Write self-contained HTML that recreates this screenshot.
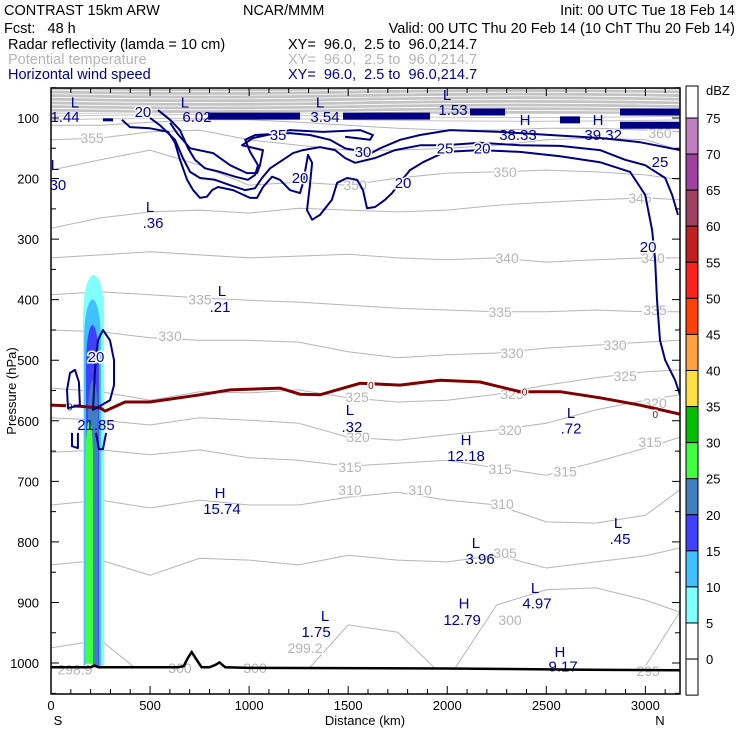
<!DOCTYPE html>
<html><head><meta charset="utf-8">
<style>
html,body{margin:0;padding:0;background:#fff;}
svg{display:block;font-family:"Liberation Sans",sans-serif;}
</style></head>
<body>
<svg id="chart" width="740" height="740" viewBox="0 0 740 740" xmlns="http://www.w3.org/2000/svg">
<g font-size="14.5">
<text x="4" y="15" fill="#000">CONTRAST 15km ARW</text>
<text x="243" y="15" fill="#000">NCAR/MMM</text>
<text x="735" y="15" text-anchor="end" fill="#000">Init: 00 UTC Tue 18 Feb 14</text>
<text x="4" y="33" fill="#000" xml:space="preserve">Fcst:   48 h</text>
<text x="735" y="33" text-anchor="end" fill="#000">Valid: 00 UTC Thu 20 Feb 14 (10 ChT Thu 20 Feb 14)</text>
<text x="8" y="49" fill="#000">Radar reflectivity (lamda = 10 cm)</text>
<text x="288" y="49" fill="#000" xml:space="preserve">XY=  96.0,  2.5 to  96.0,214.7</text>
<text x="8" y="64" fill="#b4b4b4">Potential temperature</text>
<text x="288" y="64" fill="#b4b4b4" xml:space="preserve">XY=  96.0,  2.5 to  96.0,214.7</text>
<text x="8" y="79" fill="#000090">Horizontal wind speed</text>
<text x="288" y="79" fill="#000090" xml:space="preserve">XY=  96.0,  2.5 to  96.0,214.7</text>
</g>
<defs>
<clipPath id="plotClip"><rect x="51" y="88" width="629" height="606"/></clipPath>
<clipPath id="airClip"><path id="airPath" d=""/></clipPath>
</defs>
<g id="plot" clip-path="url(#plotClip)"></g>
<g id="axes"></g>
<g id="cbar"></g>
</svg>
<script>
// ---- axis ranges ----
const pressureTicks = [100,200,300,400,500,600,700,800,900,1000];
const distanceTicks = [0,500,1000,1500,2000,2500,3000];
// ---- theta contours (K) sampled at these distances (km) ----
const thetaKm = [0,250,500,750,1000,1250,1500,1750,2000,2250,2500,2750,3000,3175];
const theta295 = [1030,1030,1030,1030,1030,1030,1030,1030,1030,1030,1030,1030,1005,915];
const theta300 = [975,962,1028,1028,1028,1028,937,949,1028,904,879,876,896,916];
const theta305 = [838,830,855,827,830,838,822,830,833,822,843,833,823,810];
const theta310 = [739,731,744,731,739,739,726,718,731,739,767,769,756,714];
const theta315 = [652,648,656,648,661,665,675,670,665,678,690,668,645,627];
const theta320 = [595,599,607,595,599,604,627,632,623,615,604,582,566,557];
const theta325 = [546,552,566,552,554,549,562,569,566,556,541,529,519,516];
const theta330 = [450,453,463,467,467,470,486,496,491,488,480,475,470,467];
const theta335 = [392,387,392,397,401,404,409,414,417,420,420,417,420,420];
const theta340 = [331,326,321,326,331,328,325,331,334,331,338,334,331,331];
const theta345 = [282,265,255,252,257,249,252,255,252,244,239,235,232,235];
const theta350 = [186,169,153,178,211,206,211,199,191,189,186,189,194,202];
const theta355 = [136,133,123,120,136,145,153,153,150,145,136,133,136,153];
const theta360 = [112,112,107,103,103,107,112,117,120,120,117,117,120,123];
const thetaLevels = [295,300,305,310,315,320,325,330,335,340,345,350,355,360];
// theta labels: text, km, hPa
const thetaLabelTxt= ["355","350","350","360","345","340","340","335","335","335","330","330","330","325","325","325","320","320","320","315","315","315","315","310","310","310","305","300","300","300","299.2","298.9","295"];
const thetaLabelKm = [207,1535,2292,3074,2973,2302,3039,752,2267,3049,601,2327,2847,1545,2327,2898,1550,2317,3049,1509,2267,2595,3024,1509,1863,2277,2292,2317,651,1030,1282,121,3014];
const thetaLabelP  = [133,211,189,125,232,331,331,400,420,417,460,488,475,561,556,526,627,615,571,676,680,684,635,714,714,737,818,929,1008,1008,975,1011,1013];
// ---- terrain ----
const terrainKm = [0,200,220,240,260,640,670,690,710,730,760,800,830,850,880,1000,2000,2700,3175];
const terrainP  = [1007,1007,1004,1007,1007,1007,1005,992,982,992,1007,1007,1003,999,1007,1008,1009,1011,1012];
// ---- freezing level (0 C) ----
const zeroKm = [0,146,250,273,374,500,752,904,1156,1257,1358,1560,1762,1964,2166,2368,2570,2771,2973,3175];
const zeroP  = [574,576,579,584,569,569,557,549,546,556,557,538,541,533,536,552,552,562,574,589];
// ---- reflectivity column (dBZ thresholds) ----
const reflDbz   = [5,10,15,20,25];
const reflLeft  = [162,167,177,186,174];
const reflRight = [268,252,242,238,212];
const reflTop   = [359,400,442,533,600];
const reflColors = ["#80ffff","#40c0ff","#4040ff","#4080c0","#40ff40"];
// ---- wind speed contours (m/s) ----
const w20aKm = [358,399,500,591,626,651,687,717,752,787,813,843,919,1005,1040,1070,1116,1156,1206,1257,1272,1297,1318,1307,1292,1318,1358,1418,1444,1494,1545,1575,1595,1636,1686,1721,1772,1812,1878,1989,2166,2367,2569,2771,2923,2999,3034,3049,3059,3074,3100,3150,3175];
const w20aP  = [103,115,117,123,141,169,202,219,232,230,219,214,219,232,232,214,197,202,219,224,207,161,174,211,252,268,260,235,207,199,202,219,249,247,235,224,202,186,173,156,153,156,163,173,189,227,285,334,400,467,500,533,557];
const w25Km = [500,550,626,666,702,752,828,904,979,1030,1065,1106,1171,1222,1272,1358,1434,1484,1535,1636,1737,1863,1989,2166,2367,2569,2771,2898,2999,3100,3135,3165];
const w25P  = [100,112,136,166,189,199,202,211,219,216,199,183,169,158,153,148,153,166,174,166,153,145,145,141,145,146,153,169,178,199,227,260];
const w30Km = [540,601,651,692,727,777,853,929,994,1030,1045,1005,980,1030,1206,1307,1408,1484,1535,1600,1661,1762,1863,2014,2267,2519,2771,2973,3175];
const w30P  = [87,103,120,150,169,183,189,197,202,194,178,156,136,128,125,128,136,150,153,161,150,136,128,120,123,128,133,140,153];
const w35Km = [601,636,702,818,904,989,1040,1055,1070,964,1020,1206,1373,1560,1625,1610,1484];
const w35P  = [108,125,150,158,178,191,191,178,153,145,133,120,123,120,128,136,131];
const wLobe1Km = [86,81,96,121,141,146];
const wLobe1P  = [579,549,521,516,536,574];
const wLobe2Km = [212,222,237,262,298,318,318,298];
const wLobe2P  = [582,516,467,450,467,500,541,566];
const wCup1Km = [106,106,136,136];
const wCup1P  = [620,642,645,620];
const wCup2Km = [227,242,262,278];
const wCup2P  = [620,647,647,620];
const jetStartKm = [262,793,1474,2115,2569,2872,2872];
const jetEndKm   = [313,1257,1913,2292,2670,3180,3180];
const jetP       = [103,97,97,90,103,90,112];
// ---- wind H/L labels ----
const extTxt = ["L","1.44","20","L","6.02","L","3.54","L","1.53","H","38.33","H","39.32","35","30","25","20","20","20","25","20","L","30","L",".36","L",".21","20","21.85","L",".32","H","12.18","L",".72","H","15.74","L",".45","L","3.96","L","4.97","H","12.79","L","1.75","H","9.17"];
const extKm  = [121,71,464,676,737,1358,1383,1999,2029,2393,2357,2761,2787,1146,1575,1989,2176,1257,1777,3074,3014,20,35,500,515,863,853,227,227,1509,1519,2095,2095,2625,2625,853,863,2862,2872,2145,2166,2443,2453,2085,2075,1383,1338,2569,2585];
const extP   = [74,98,90,74,98,74,98,62,87,103,128,103,128,128,156,150,150,199,207,173,313,178,211,247,273,386,412,495,607,582,610,632,658,587,613,719,746,769,795,802,828,876,902,902,929,922,949,982,1006];
// ---- colorbar ----
const cbarLabels = [75,70,65,60,55,50,45,40,35,30,25,20,15,10,5,0];
const cbarColors = ["#ffffff","#c080c0","#a040a0","#a04060","#c02020","#ff2020","#ff4000","#ffa040","#ffe040","#00c000","#40ff40","#4080c0","#4040ff","#40c0ff","#80ffff","#ffffff","#ffffff"];

const NS = "http://www.w3.org/2000/svg";
const X0=51, X1=680, Y0=88, Y1=694;
function xs(km){ return X0 + km*0.19812; }
function ys(p){ return 118 + (p-100)*0.6056; }
function mk(tag, attrs, parent){
  const e=document.createElementNS(NS,tag);
  for(const k in attrs) e.setAttribute(k, attrs[k]);
  parent.appendChild(e); return e;
}
function poly(kms, ps){ return kms.map((k,i)=>(i?"L":"M")+xs(k).toFixed(1)+","+ys(ps[i]).toFixed(1)).join(""); }
const plot=document.getElementById("plot");
const axes=document.getElementById("axes");
const cbar=document.getElementById("cbar");

let air = "M"+xs(0)+","+Y0+" "+terrainKm.map((k,i)=>"L"+xs(k).toFixed(1)+","+ys(terrainP[i]).toFixed(1)).join(" ")+" L"+xs(3200)+","+ys(1012)+" L"+xs(3200)+","+Y0+"Z";
document.getElementById("airPath").setAttribute("d", air);

// top gray band of dense theta
const band = mk("rect",{x:X0,y:Y0,width:X1-X0,height:ys(93)-Y0,fill:"#c4c4c4"},plot);


const bandLines=[54,60,66,72,78,84,90];
bandLines.forEach(p=>{
  const l=mk("path",{d:"M"+X0+","+ys(p)+" Q200,"+(ys(p)+3)+" 360,"+ys(p)+" T680,"+ys(p),stroke:"#fff","stroke-width":0.8,fill:"none"},plot);
  
  
});
const band2=[97,103];
band2.forEach(p=>{
  const l=mk("path",{d:"M"+X0+","+ys(p)+" Q200,"+(ys(p)-3)+" 360,"+ys(p)+" T680,"+ys(p),stroke:"#c4c4c4","stroke-width":1,fill:"none"},plot);
  
  
});

// theta contours
const thetaG = mk("g",{"clip-path":"url(#airClip)"},plot);


const thetaSeries=[theta295,theta300,theta305,theta310,theta315,theta320,theta325,theta330,theta335,theta340,theta345,theta350,theta355,theta360];
thetaSeries.forEach((s,i)=>{
  const l=mk("path",{d:poly(thetaKm,s),stroke:"#b4b4b4","stroke-width":1,fill:"none"},thetaG);
  
  
});

// reflectivity column
reflDbz.forEach((d,i)=>{
  const l=xs(reflLeft[i]), r=xs(reflRight[i]), t=ys(reflTop[i]), b=ys(1007);
  const ry=Math.min(40,(b-t)*0.2), rx=(r-l)/2;
  const p=mk("path",{d:`M${l},${b} L${l},${t+ry} A${rx},${ry} 0 0 1 ${r},${t+ry} L${r},${b} Z`,fill:reflColors[i]},plot);
  
  
});

// theta labels
thetaLabelTxt.forEach((t,i)=>{
  const e=mk("text",{x:xs(thetaLabelKm[i]),y:ys(thetaLabelP[i])+5,"text-anchor":"middle","font-size":14,fill:"#b4b4b4",stroke:"#fff","stroke-width":3,"paint-order":"stroke"},plot);
  e.textContent=t;
  
  
});

// freezing level
const zl=mk("path",{d:poly(zeroKm,zeroP),stroke:"#800000","stroke-width":3,fill:"none"},plot);


const zeroLabKm=[95,1615,2390,3050];
zeroLabKm.forEach(k=>{
  const i=zeroKm.findIndex(v=>v>=k);
  const e=mk("text",{x:xs(k),y:ys(zeroP[Math.max(0,i)])+4,"text-anchor":"middle","font-size":10,fill:"#800000",stroke:"#fff","stroke-width":3,"paint-order":"stroke"},plot);
  e.textContent="0";
  
  
});

// wind contours
const windSets=[[w20aKm,w20aP,"20"],[w25Km,w25P,"25"],[w30Km,w30P,"30"],[w35Km,w35P,"35"],[wLobe1Km,wLobe1P,"20"],[wLobe2Km,wLobe2P,"20"],[wCup1Km,wCup1P,"20"],[wCup2Km,wCup2P,"20"]];
windSets.forEach((s,i)=>{
  const closed = (i===4||i===5) ? "Z" : "";
  const l=mk("path",{d:poly(s[0],s[1])+closed,stroke:"#000080","stroke-width":2,fill:"none","stroke-linejoin":"round"},plot);
  
  
});
jetStartKm.forEach((k,i)=>{
  const l=mk("path",{d:`M${xs(k)},${ys(jetP[i])}L${xs(jetEndKm[i])},${ys(jetP[i])}`,stroke:"#000080","stroke-width":i===0?3:7,fill:"none"},plot);
  
  
});
extTxt.forEach((t,i)=>{
  const isLevel = !isNaN(+t) && t.indexOf(".")<0;
  const e=mk("text",{x:xs(extKm[i]),y:ys(extP[i])+5,"text-anchor":"middle","font-size":15,fill:"#000090",stroke:"#fff","stroke-width":isLevel?3:0,"paint-order":"stroke"},plot);
  e.textContent=t;
  
  
});

// terrain line
const tl=mk("path",{d:poly(terrainKm,terrainP),stroke:"#000","stroke-width":2.5,fill:"none"},plot);



// frame and ticks
const fr=mk("rect",{x:X0,y:Y0,width:X1-X0,height:Y1-Y0,fill:"none",stroke:"#000","stroke-width":1.5},axes);


let td="";
for(let p=50;p<=1050;p+=50){const y=ys(p);const L=(p%100===0)?8:5;td+=`M${X0},${y}h${L}M${X1},${y}h${-L}`;}
for(let k=0;k<=3175;k+=100){const x=xs(k);const L=(k%500===0)?8:5;td+=`M${x},${Y1}v${-L}M${x},${Y0}v${L}`;}
const tk=mk("path",{d:td,stroke:"#000","stroke-width":1,fill:"none"},axes);


pressureTicks.forEach(p=>{
  const e=mk("text",{x:39,y:ys(p)+5,"text-anchor":"end","font-size":13,fill:"#000"},axes);
  e.textContent=p;
  
  
});
distanceTicks.forEach(k=>{
  const e=mk("text",{x:xs(k),y:710,"text-anchor":"middle","font-size":13,fill:"#000"},axes);
  e.textContent=k;
  
  
});
const yt=mk("text",{x:0,y:0,transform:"translate(16,391) rotate(-90)","text-anchor":"middle","font-size":13,fill:"#000"},axes);
yt.textContent="Pressure (hPa)";


const xt=mk("text",{x:365,y:725,"text-anchor":"middle","font-size":13,fill:"#000"},axes);
xt.textContent="Distance (km)";


const sS=mk("text",{x:58,y:725,"text-anchor":"middle","font-size":13,fill:"#000"},axes);
sS.textContent="S";


const sN=mk("text",{x:660,y:725,"text-anchor":"middle","font-size":13,fill:"#000"},axes);
sN.textContent="N";



// colorbar
const CB0=86, CBstep=36.07, CBfirst=118;
cbarColors.forEach((c,i)=>{
  const top = i===0?CB0:CBfirst+(i-1)*CBstep;
  const bot = CBfirst+i*CBstep;
  const r=mk("rect",{x:686,y:top,width:12,height:Math.min(bot,696)-top,fill:c,stroke:"#000","stroke-width":1},cbar);
  
  
});
cbarLabels.forEach((v,i)=>{
  const e=mk("text",{x:706,y:CBfirst+i*CBstep+5,"font-size":13,fill:"#000"},cbar);
  e.textContent=v;
  
  
});
const dz=mk("text",{x:706,y:95,"font-size":13,fill:"#000"},cbar);
dz.textContent="dBZ";


</script>
</body></html>
